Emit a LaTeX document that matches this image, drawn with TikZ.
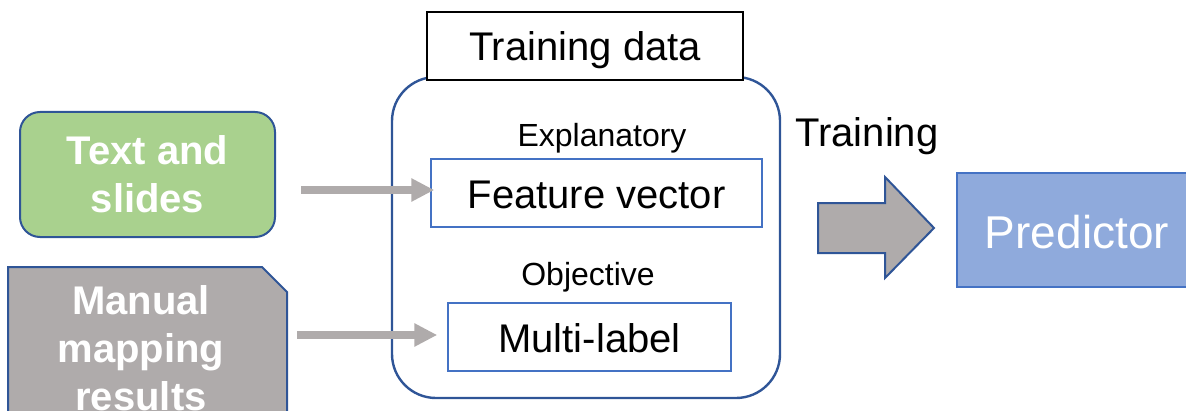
\documentclass[tikz,border=0pt]{standalone}
\usepackage{fontspec}
\setmainfont{Liberation Sans}
\usetikzlibrary{arrows.meta}
\definecolor{leafgreen}{HTML}{A9D18E}
\definecolor{stone}{HTML}{AFABAB}
\definecolor{navy}{HTML}{2F5597}
\definecolor{midblue}{HTML}{4472C4}
\definecolor{skyblue}{HTML}{8FAADC}
\begin{document}
\begin{tikzpicture}[x=0.5pt,y=-0.5pt,
  srctext/.style={text=white,font=\bfseries\fontsize{20}{24}\selectfont,align=center,inner sep=0pt},
  fieldbox/.style={draw=midblue,line width=0.75pt,fill=white,inner sep=0pt,
    font=\fontsize{20}{24}\selectfont,text height=15pt,text depth=0pt},
  caption/.style={font=\fontsize{16}{19}\selectfont,anchor=base,inner sep=0pt},
  feed/.style={draw=stone,line width=4pt,-{Triangle[length=11.5pt,width=11pt]}},
]
\useasboundingbox (0,0) rectangle (1186,411);
\clip (0,0) rectangle (1186,411);

% input sources
\node[srctext,draw=navy,line width=1pt,fill=leafgreen,rounded corners=10pt,
  minimum width=127.5pt,minimum height=62.5pt] (slides) at (147.5,174.5) {Text and\\slides};
\filldraw[fill=stone,draw=navy,line width=1pt]
  (8,267) -- (262,267) -- (287,292) -- (287,440) -- (8,440) -- cycle;
\coordinate (manualedge) at (287,335);
\node[srctext] (manual) at (141,348.5) {Manual\\mapping\\results};

% training data container
\node[draw=navy,line width=1.2pt,rounded corners=22pt,
  minimum width=194pt,minimum height=160.5pt] (data) at (586,237.5) {};
\node[draw=black,line width=1pt,fill=white,minimum width=158pt,minimum height=34pt,
  inner sep=0pt,font=\fontsize{20}{24}\selectfont,text height=15pt,text depth=0pt]
  (head) at (585,46) {Training data};
\node[caption] (expl) at (602,147) {Explanatory};
\node[fieldbox,minimum width=165.5pt,minimum height=34pt] (feat) at (596.5,193) {Feature vector};
\node[caption] (obj) at (588,285) {Objective};
\node[fieldbox,minimum width=141.5pt,minimum height=34pt] (multi) at (589.5,337) {Multi-label};

% feeding arrows
\draw[feed] ([xshift=12.5pt,yshift=1.5pt]slides.east |- feat.west) -- ([xshift=2pt,yshift=1.5pt]feat.west);
\draw[feed] ([xshift=5pt]manualedge) -- ([xshift=-5pt,yshift=1pt]multi.west);

% training step
\node[font=\fontsize{20}{24}\selectfont,anchor=base west,inner sep=0pt] (trainlbl) at (795,147) {Training};
\filldraw[fill=stone,draw=navy,line width=1pt]
  (818,203) -- (885,203) -- (885,177) -- (934,228) -- (885,278) -- (885,253) -- (818,253) -- cycle;

% predictor
\node[draw=midblue,line width=1pt,fill=skyblue,text=white,minimum width=120pt,minimum height=57pt,
  inner sep=0pt,font=\fontsize{23}{27}\selectfont,text height=18pt,text depth=0pt]
  (pred) at (1077,230) {Predictor};
\end{tikzpicture}
\end{document}
